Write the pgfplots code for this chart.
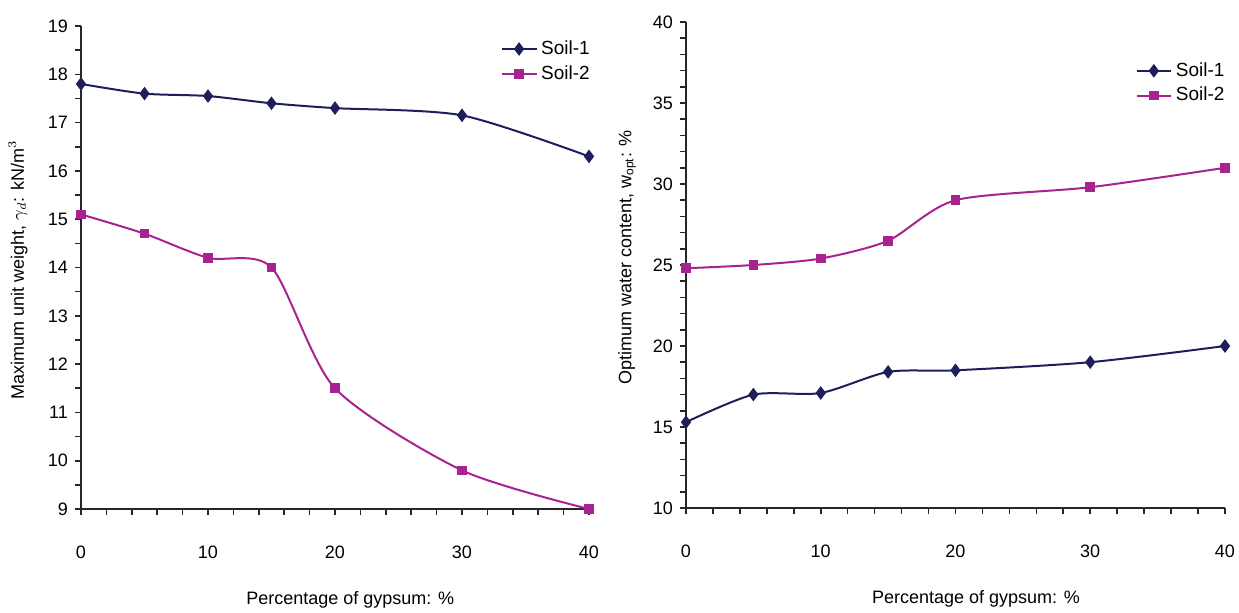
\documentclass[border=0pt]{standalone}
\usepackage{pgfplots}
\pgfplotsset{compat=1.18}
\usepackage{fontspec}
\setmainfont{Liberation Sans}
\definecolor{navy}{HTML}{1E1E5A}
\definecolor{mag}{HTML}{A8238F}
\begin{document}
\begin{tikzpicture}[x=1pt,y=1pt]
\useasboundingbox (-40.5,-51.5) rectangle (579,254.5);
\pgfplotsset{
  soilax/.style={
    scale only axis,
    axis lines=left,
    axis line style={-, line width=1pt, black!85},
    tick align=outside,
    major tick length=3pt,
    minor tick length=3pt,
    tick style={line width=0.8pt, black!85},
    xmin=0, xmax=40,
    xtick={0,10,20,30,40},
    minor x tick num=4,
    clip=false,
    /pgf/number format/assume math mode=true,
    tick label style={font=\fontsize{9}{11}\selectfont},
    x tick label style={yshift=-12pt},
    label style={font=\fontsize{9}{11}\selectfont},
    legend style={draw=none, fill=none, font=\fontsize{9.5}{11}\selectfont, row sep=0pt, inner sep=1pt},
    legend cell align=left,
    every axis plot/.append style={line width=1pt, smooth, tension=0.45},
  },
  s1/.style={color=navy, mark=diamond*, mark size=2.6pt, mark options={solid}},
  s2/.style={color=mag, mark=square*, mark size=1.9pt, mark options={solid}},
}
% left panel
\begin{axis}[soilax,
  at={(0pt,0pt)}, anchor=south west,
  width=254pt, height=241.5pt,
  ymin=9, ymax=19, ytick={9,10,...,19}, minor y tick num=1,
  xlabel={Percentage of gypsum: \%},
  xlabel style={at={(axis description cs:0.53,0)}, anchor=center, yshift=-45.5pt},
  ylabel={Maximum unit weight, $\gamma_d$: kN/m$^3$},
  ylabel style={at={(axis description cs:0,0.495)}, anchor=center, yshift=31.5pt},
  legend style={at={(axis description cs:0.822,0.983)}, anchor=north west},
]
\addplot[s1] coordinates {(0,17.8) (5,17.6) (10,17.55) (15,17.4) (20,17.3) (30,17.15) (40,16.3)};
\addlegendentry{Soil-1}
\addplot[s2] coordinates {(0,15.1) (5,14.7) (10,14.2) (15,14.0) (20,11.5) (30,9.8) (40,9.0)};
\addlegendentry{Soil-2}
\end{axis}
% right panel
\begin{axis}[soilax,
  at={(302.5pt,0.5pt)}, anchor=south west,
  width=269.5pt, height=243pt,
  ymin=10, ymax=40, ytick={10,15,...,40}, minor y tick num=4,
  xlabel={Percentage of gypsum: \%},
  xlabel style={at={(axis description cs:0.538,0)}, anchor=center, yshift=-45.5pt},
  ylabel={Optimum water content, w\textsubscript{opt}: \%},
  ylabel style={at={(axis description cs:0,0.516)}, anchor=center, yshift=29.5pt},
  legend style={at={(axis description cs:0.83,0.93)}, anchor=north west},
]
\addplot[s1] coordinates {(0,15.3) (5,17.0) (10,17.1) (15,18.4) (20,18.5) (30,19.0) (40,20.0)};
\addlegendentry{Soil-1}
\addplot[s2] coordinates {(0,24.8) (5,25.0) (10,25.4) (15,26.5) (20,29.0) (30,29.8) (40,31.0)};
\addlegendentry{Soil-2}
\end{axis}
\end{tikzpicture}
\end{document}
